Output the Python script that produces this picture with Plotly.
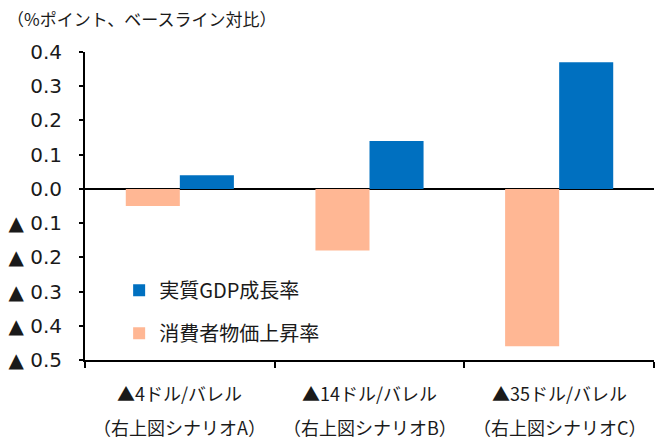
import plotly.graph_objects as go

categories = ["▲4ドル/バレル", "▲14ドル/バレル", "▲35ドル/バレル"]
scenarios = ["（右上図シナリオA）", "（右上図シナリオB）", "（右上図シナリオC）"]
cpi_values = [-0.05, -0.18, -0.46]
gdp_values = [0.04, 0.14, 0.37]
tick_vals = [0.4, 0.3, 0.2, 0.1, 0.0, -0.1, -0.2, -0.3, -0.4, -0.5]
tick_text = ["0.4", "0.3", "0.2", "0.1", "0.0", "▲ 0.1", "▲ 0.2", "▲ 0.3", "▲ 0.4", "▲ 0.5"]
series_names = ["実質GDP成長率", "消費者物価上昇率"]
title_text = "（%ポイント、ベースライン対比）"

FONT = "DejaVu Sans, Noto Sans CJK JP, sans-serif"
JFONT = "Noto Sans CJK JP, DejaVu Sans, sans-serif"

fig = go.Figure()
fig.add_trace(go.Bar(x=categories, y=cpi_values, name=series_names[1],
                     marker=dict(color="#FFB794", line=dict(width=0)),
                     legendgroup="b", legendrank=2))
fig.add_trace(go.Bar(x=categories, y=gdp_values, name=series_names[0],
                     marker=dict(color="#0070C0", line=dict(width=0)),
                     legendgroup="a", legendrank=1))

annotations = [dict(text=title_text, x=0, y=1, xref="paper", yref="paper",
                    xanchor="left", yanchor="top", showarrow=False,
                    font=dict(family=JFONT, size=17, color="#1a1a1a"),
                    xshift=-80, yshift=48)]
for c, s in zip(categories, scenarios):
    annotations.append(dict(text=c, x=c, y=0, xref="x", yref="paper",
                            xanchor="center", yanchor="middle", showarrow=False,
                            yshift=-33, font=dict(family=JFONT, size=18, color="#1a1a1a")))
    annotations.append(dict(text=s, x=c, y=0, xref="x", yref="paper",
                            xanchor="center", yanchor="middle", showarrow=False,
                            yshift=-67, font=dict(family=JFONT, size=18, color="#1a1a1a")))

fig.update_layout(
    width=656, height=439,
    margin=dict(l=85, r=2, t=52, b=79),
    paper_bgcolor="white", plot_bgcolor="white",
    barmode="group", bargap=0.43, bargroupgap=0,
    showlegend=True,
    legend=dict(x=0.06, y=0.29, xanchor="left", yanchor="top",
                traceorder="grouped", tracegroupgap=14, itemwidth=30,
                font=dict(family=JFONT, size=20, color="#1a1a1a"),
                bgcolor="rgba(0,0,0,0)"),
    annotations=annotations,
    xaxis=dict(showticklabels=False, ticks="outside", tickson="boundaries",
               ticklen=6, tickwidth=2, tickcolor="black",
               showline=True, linecolor="black", linewidth=2,
               showgrid=False, zeroline=False),
    yaxis=dict(range=[-0.5, 0.4], tickvals=tick_vals, ticktext=tick_text,
               ticks="outside", ticklen=4, tickwidth=2, tickcolor="black",
               ticklabelstandoff=13,
               showline=True, linecolor="black", linewidth=2,
               showgrid=False, zeroline=True, zerolinecolor="black", zerolinewidth=2,
               tickfont=dict(family=FONT, size=20, color="#1a1a1a")),
)

fig.write_html("out.html", config={"displayModeBar": False},
               post_script="document.body.style.margin='0';document.body.style.padding='0';")
